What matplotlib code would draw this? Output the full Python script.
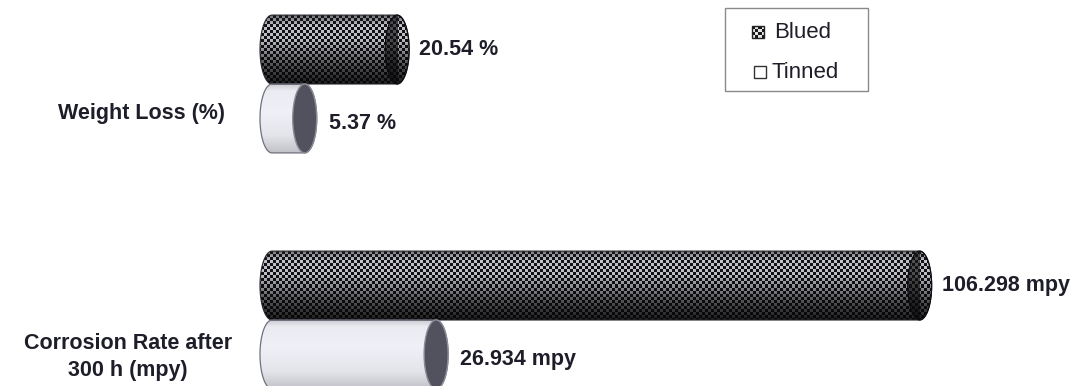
import numpy as np
import matplotlib
matplotlib.use('Agg')
import matplotlib.pyplot as plt
from matplotlib.path import Path
from matplotlib.patches import PathPatch, Ellipse, Rectangle

# ---------------- data ----------------
categories = ['Weight Loss (%)', 'Corrosion Rate after\n300 h (mpy)']
series = ['Blued', 'Tinned']
blued = [20.54, 106.298]
tinned = [5.37, 26.934]
blued_labels = ['20.54 %', '106.298 mpy']
tinned_labels = ['5.37 %', '26.934 mpy']

# ---------------- layout ----------------
W, H = 1080, 386
fig = plt.figure(figsize=(W / 100, H / 100), dpi=100)
fig.patch.set_facecolor('white')
ax = fig.add_axes([0, 0, 1, 1])
ax.set_axis_off()

PPU = 6.093          # pixels per value unit
X0 = 272             # pixel of value 0
SP = 236             # pixels between categories
XLIM = (-X0 / PPU, (W - X0) / PPU)
YLIM = (1 + (H - 320) / SP, -84 / SP)
ax.set_xlim(*XLIM)
ax.set_ylim(*YLIM)

TXT = '#1e1e2a'
BOLD = dict(family=['Liberation Sans', 'DejaVu Sans'], weight='bold', size=15.5, color=TXT)

h = 0.292
ypos = np.arange(len(categories))
bars_b = ax.barh(ypos - h / 2, blued, height=h, color='#1c1c24', linewidth=0, zorder=2)
bars_t = ax.barh(ypos + h / 2, tinned, height=h, color='#e4e4ec', linewidth=0, zorder=2)

CW = 12 / PPU        # half width of elliptical ends (data units)


def d2p(x, y):
    X, Y = ax.transData.transform((x, y))
    return X, H - Y


def p2d(px, py):
    return ax.transData.inverted().transform((px, H - py))


def silhouette(x0, x1, yc, hh, n=80):
    t1 = np.linspace(-np.pi / 2, np.pi / 2, n)
    right = np.column_stack([x1 + CW * np.cos(t1), yc + hh / 2 * np.sin(t1)])
    t2 = np.linspace(np.pi / 2, -np.pi / 2, n)
    left = np.column_stack([x0 - CW * np.cos(t2), yc + hh / 2 * np.sin(t2)])
    verts = np.vstack([right, left, right[:1]])
    codes = [Path.MOVETO] + [Path.LINETO] * (len(verts) - 2) + [Path.CLOSEPOLY]
    return Path(verts, codes)


def texture(kind, x0, x1, yc, hh, clip, zorder, dark=False):
    pl, pt = d2p(x0 - CW, yc - hh / 2)
    pr, pb = d2p(x1 + CW, yc + hh / 2)
    c0, c1 = int(np.floor(pl)), int(np.ceil(pr))
    r0, r1 = int(np.floor(pt)), int(np.ceil(pb))
    r = np.arange(r0, r1)[:, None]
    c = np.arange(c0, c1)[None, :]
    t = np.clip((r + 0.5 - pt) / (pb - pt), 0, 1)
    if kind == 'blued':
        chk = (((r // 3) + (c // 3)) % 2).astype(float)
        hi = np.interp(t, [0, 0.15, 0.35, 0.7, 1], [0.45, 0.80, 0.78, 0.36, 0.12])
        lo = np.interp(t, [0, 1], [0.09, 0.03])
        if dark:
            hi = lo + (hi - lo) * 0.35
        v = lo + (hi - lo) * chk
        rgb = np.dstack([v * 0.95, v * 0.95, v * 1.0])
    else:
        v = np.interp(t, [0, 0.1, 0.4, 0.75, 1], [0.82, 0.95, 0.97, 0.92, 0.78])
        v = np.broadcast_to(v, (r1 - r0, c1 - c0))
        rgb = np.dstack([v * 0.97, v * 0.97, v * 1.0])
    xl, yt = p2d(c0, r0)
    xr, yb = p2d(c1, r1)
    im = ax.imshow(np.clip(rgb, 0, 1), extent=(xl, xr, yb, yt), origin='upper',
                   interpolation='nearest', aspect='auto', zorder=zorder)
    im.set_clip_path(clip)


def cylinder(bar, kind):
    x0 = bar.get_x()
    x1 = bar.get_x() + bar.get_width()
    yc = bar.get_y() + bar.get_height() / 2
    hh = bar.get_height()
    bar.set_visible(False)
    sil = PathPatch(silhouette(x0, x1, yc, hh), transform=ax.transData,
                    facecolor='none', edgecolor='none', zorder=3)
    ax.add_patch(sil)
    texture(kind, x0, x1, yc, hh, sil, zorder=3)
    if kind == 'blued':
        outline = PathPatch(silhouette(x0, x1, yc, hh), facecolor='none',
                            edgecolor='#25252c', lw=0.8, zorder=4)
        ax.add_patch(outline)
        capclip = Ellipse((x1, yc), 2 * CW, hh, facecolor='none', edgecolor='none', zorder=5)
        ax.add_patch(capclip)
        texture('blued', x1 - CW, x1 - CW, yc, hh, capclip, zorder=5, dark=True)
        cap = Ellipse((x1, yc), 2 * CW, hh, facecolor='none', edgecolor='#0c0c10',
                      lw=0.8, zorder=6)
        ax.add_patch(cap)
    else:
        outline = PathPatch(silhouette(x0, x1, yc, hh), facecolor='none',
                            edgecolor='#70707e', lw=0.9, zorder=4)
        ax.add_patch(outline)
        cap = Ellipse((x1, yc), 2 * CW, hh, facecolor='#52525e', edgecolor='#8c8c98',
                      lw=1.0, zorder=5)
        ax.add_patch(cap)
    return x1, yc


for bar, lab in zip(bars_b, blued_labels):
    x1, yc = cylinder(bar, 'blued')
    ax.text(x1 + CW + 10 / PPU, yc, lab, ha='left', va='center', **BOLD)

for bar, lab in zip(bars_t, tinned_labels):
    x1, yc = cylinder(bar, 'tinned')
    xd, yd = p2d(0, d2p(x1, yc)[1] + 5)
    ax.text(x1 + CW + 12 / PPU, yd, lab, ha='left', va='center', **BOLD)

# category labels
cat_px = [(142, 113), (128, 357)]
for lab, (px, py) in zip(categories, cat_px):
    xd, yd = p2d(px, py)
    ax.text(xd, yd, lab, ha='center', va='center', multialignment='center',
            linespacing=1.35, **BOLD)

# ---------------- legend (box with swatches, in figure pixels) ----------------
FT = fig.transFigure
LEG = dict(family=['Liberation Sans', 'DejaVu Sans'], size=16, color=TXT)
ax.add_patch(Rectangle((725 / W, 1 - 91 / H), 143 / W, 83 / H, transform=FT,
                       facecolor='white', edgecolor='#8a8a8a', lw=1.0, zorder=7))
sw = 12
rr = np.arange(sw)[:, None]
cc = np.arange(sw)[None, :]
chk = (((rr // 3) + (cc // 3)) % 2).astype(float)
v = 0.10 + 0.8 * chk
sx0, sy0 = 752, 26
xl, yt = p2d(sx0, sy0)
xr, yb = p2d(sx0 + sw, sy0 + sw)
ax.imshow(np.dstack([v, v, v]), extent=(xl, xr, yb, yt), origin='upper',
          interpolation='nearest', aspect='auto', zorder=8)
ax.add_patch(Rectangle((sx0 / W, 1 - (sy0 + sw) / H), sw / W, sw / H, transform=FT,
                       facecolor='none', edgecolor='#222', lw=1.0, zorder=9))
ax.add_patch(Rectangle((754 / W, 1 - (66 + sw) / H), sw / W, sw / H, transform=FT,
                       facecolor='white', edgecolor='#333', lw=1.0, zorder=9))
ax.text(774 / W, 1 - 32 / H, series[0], ha='left', va='center', transform=FT,
        zorder=10, **LEG)
ax.text(772 / W, 1 - 72 / H, series[1], ha='left', va='center', transform=FT,
        zorder=10, **LEG)

ax.set_xlim(*XLIM)
ax.set_ylim(*YLIM)
fig.savefig('out.png', dpi=100, facecolor='white')
